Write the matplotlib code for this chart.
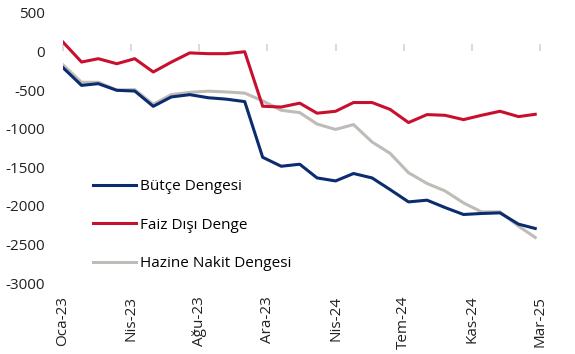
import pandas as pd
import matplotlib
matplotlib.use("Agg")
import matplotlib.pyplot as plt

# monthly series, Oca-23 .. Mar-25
months = pd.date_range("2023-01-01", periods=27, freq="MS")

butce = [-211, -440, -418, -504, -513, -711, -590, -560, -600, -618, -650,
         -1370, -1486, -1460, -1637, -1676, -1580, -1637, -1787, -1947, -1925,
         -2020, -2110, -2097, -2089, -2235, -2291]
faiz_disi = [120, -138, -95, -160, -95, -267, -140, -20, -30, -30, -5,
             -710, -720, -670, -800, -775, -662, -662, -750, -921, -818,
             -827, -883, -827, -775, -844, -814]
hazine_nakit = [-174, -400, -400, -500, -495, -685, -560, -530, -515, -525, -540,
                -640, -762, -792, -940, -1010, -947, -1172, -1318, -1570, -1709,
                -1805, -1960, -2076, -2076, -2261, -2407]

tick_labels = ["Oca-23", "Nis-23", "Ağu-23", "Ara-23", "Nis-24", "Tem-24", "Kas-24", "Mar-25"]
TICK_STEP_DAYS = 114  # excel date axis major unit

plt.rcParams["font.family"] = ["Open Sans", "DejaVu Sans"]
plt.rcParams["axes.unicode_minus"] = False
FS = 11

x = (months - months[0]).days.values
ymin, ymax = -3000, 500

fig = plt.figure(figsize=(5.75, 3.54), dpi=100)
ax = fig.add_axes([63 / 575, 1 - 283.3 / 354, (549 - 63) / 575, (283.3 - 12.7) / 354])

ax.plot(x, butce, color="#0B2C6E", lw=2.2, label="Bütçe Dengesi", zorder=3)
ax.plot(x, faiz_disi, color="#C8102E", lw=2.2, label="Faiz Dışı Denge", zorder=3)
ax.plot(x, hazine_nakit, color="#BFBBB6", lw=2.2, label="Hazine Nakit Dengesi", zorder=2)

ax.set_ylim(ymin, ymax)
ax.set_yticks(range(ymin, ymax + 1, 500))
ax.set_xlim(0, 813)
ticks = [i * TICK_STEP_DAYS for i in range(len(tick_labels))]
ax.set_xticks(ticks)
ax.set_xticklabels(tick_labels, rotation=90, fontsize=FS, color="#222222")
ax.tick_params(axis="x", length=0, pad=9)
ax.tick_params(axis="y", length=0, pad=13, labelsize=FS, labelcolor="#222222")
for s in ax.spines.values():
    s.set_visible(False)

# zero line with tick marks
sec = ax.secondary_xaxis((0 - ymin) / (ymax - ymin))
sec.set_xticks(ticks)
sec.set_xticklabels([])
sec.tick_params(axis="x", direction="out", length=5, width=1.2, color="#D4D4D4")
sec.spines["bottom"].set_color("#D4D4D4")
sec.spines["bottom"].set_linewidth(1.5)
for k in ("top", "left", "right"):
    sec.spines[k].set_visible(False)

ax.legend(loc="upper left", bbox_to_anchor=(93 / 575, 1 - 179 / 354),
          bbox_transform=fig.transFigure, frameon=False, fontsize=FS,
          handlelength=2.8, handletextpad=0.3, labelspacing=1.55, borderpad=0,
          borderaxespad=0)

fig.savefig("out.png", dpi=100)
